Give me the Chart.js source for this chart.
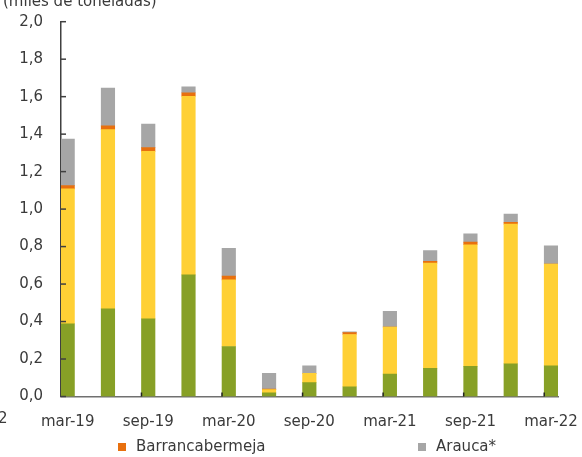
<!DOCTYPE html>
<html lang="es">
<head>
<meta charset="utf-8">
<title>Miles de toneladas</title>
<script src="https://cdn.jsdelivr.net/npm/chart.js@4.4.1/dist/chart.umd.min.js"></script>
<style>
    html, body { margin: 0; padding: 0; background: #fff; }
    #wrap { width: 582px; height: 457px; position: relative; }
</style>
</head>
<body>
<div id="wrap"><canvas id="barChart"></canvas></div>
<script>
// Quarterly periods, mar-19 .. mar-22
const periods = ['mar-19', 'jun-19', 'sep-19', 'dic-19', 'mar-20', 'jun-20', 'sep-20',
    'dic-20', 'mar-21', 'jun-21', 'sep-21', 'dic-21', 'mar-22'];

// Values in thousands of tonnes
const seriesGreen  = [0.388, 0.468, 0.414, 0.649, 0.267, 0.019, 0.074, 0.052, 0.119, 0.150, 0.161, 0.175, 0.163];
const seriesYellow = [0.720, 0.956, 0.894, 0.953, 0.355, 0.018, 0.050, 0.279, 0.252, 0.562, 0.649, 0.745, 0.544];
const barrancabermeja = [0.017, 0.020, 0.020, 0.019, 0.020, 0.002, 0.000, 0.010, 0.000, 0.009, 0.014, 0.009, 0.000];
const arauca = [0.249, 0.202, 0.126, 0.032, 0.149, 0.084, 0.040, 0.004, 0.083, 0.057, 0.044, 0.044, 0.097];

const yTicks = [0, 0.2, 0.4, 0.6, 0.8, 1.0, 1.2, 1.4, 1.6, 1.8, 2.0];

const FONT = '"DejaVu Sans", "Noto Sans", sans-serif';
const TEXT = '#3a3a3a';

const toPoints = arr => arr.map((v, i) => ({ x: i, y: v }));

// Draws the inner tick marks, legend and the cut-off texts around the plot
const extrasPlugin = {
    id: 'extras',
    afterDraw(chart) {
        const { ctx, chartArea, scales } = chart;
        ctx.save();

        // inward ticks on y axis
        ctx.strokeStyle = '#404040';
        ctx.lineWidth = 1.5;
        yTicks.forEach(v => {
            const y = scales.y.getPixelForValue(v);
            ctx.beginPath();
            ctx.moveTo(chartArea.left, y);
            ctx.lineTo(chartArea.left + 5, y);
            ctx.stroke();
        });

        // inward ticks on x axis, every two quarters
        ctx.strokeStyle = '#222';
        for (let k = 1; k <= 6; k++) {
            const x = scales.x.getPixelForValue(2 * k - 0.168);
            ctx.beginPath();
            ctx.moveTo(x, chartArea.bottom);
            ctx.lineTo(x, chartArea.bottom - 4);
            ctx.stroke();
        }

        ctx.fillStyle = TEXT;
        ctx.font = '15px ' + FONT;
        ctx.textBaseline = 'alphabetic';
        ctx.textAlign = 'left';
        // unit label, cropped at the top of the picture
        ctx.fillText('(miles de toneladas)', 3, 6);
        // leftover label at the left edge
        ctx.fillText('2', -2, 423);

        // legend (only the visible entries)
        const legend = [
            { text: 'Barrancabermeja', color: '#E8700E', x: 118 },
            { text: 'Arauca*', color: '#A6A6A6', x: 418 }
        ];
        ctx.textBaseline = 'middle';
        legend.forEach(item => {
            ctx.fillStyle = item.color;
            ctx.fillRect(item.x, 443, 8, 8);
            ctx.fillStyle = TEXT;
            ctx.fillText(item.text, item.x + 18, 447);
        });
        ctx.restore();
    }
};

const ctxBar = document.getElementById('barChart').getContext('2d');
new Chart(ctxBar, {
    type: 'bar',
    data: {
        datasets: [
            { label: 'Serie A', data: toPoints(seriesGreen), backgroundColor: '#87A026' },
            { label: 'Serie B', data: toPoints(seriesYellow), backgroundColor: '#FFD035' },
            { label: 'Barrancabermeja', data: toPoints(barrancabermeja), backgroundColor: '#E8700E' },
            { label: 'Arauca*', data: toPoints(arauca), backgroundColor: '#A6A6A6' }
        ]
    },
    options: {
        responsive: true,
        maintainAspectRatio: false,
        animation: false,
        barThickness: 13.5,
        layout: { padding: { top: 21.7, right: 24, bottom: 20.5, left: 0 } },
        plugins: {
            legend: { display: false },
            tooltip: { enabled: false }
        },
        scales: {
            x: {
                type: 'linear',
                stacked: true,
                offset: false,
                min: -0.166,
                max: 12.174,
                grid: { display: false, drawTicks: false, offset: false },
                border: { color: '#707070', width: 1.5 },
                afterFit: axis => {
                    axis.height = 40;
                    axis.paddingLeft = 0;
                    axis.paddingRight = 0;
                },
                afterBuildTicks: axis => {
                    axis.ticks = [0, 2, 4, 6, 8, 10, 12].map(v => ({ value: v }));
                },
                ticks: {
                    color: TEXT,
                    font: { family: FONT, size: 15 },
                    padding: 17,
                    maxRotation: 0,
                    autoSkip: false,
                    callback: v => periods[v]
                }
            },
            y: {
                stacked: true,
                min: 0,
                max: 2,
                grid: { display: false, drawTicks: false },
                border: { color: '#404040', width: 1.5 },
                afterFit: axis => { axis.width = 61; axis.paddingTop = 0; axis.paddingBottom = 0; },
                afterBuildTicks: axis => {
                    axis.ticks = yTicks.map(v => ({ value: v }));
                },
                ticks: {
                    color: TEXT,
                    font: { family: FONT, size: 15 },
                    padding: 18,
                    callback: v => v.toFixed(1).replace('.', ',')
                }
            }
        }
    },
    plugins: [extrasPlugin]
});
</script>
</body>
</html>
